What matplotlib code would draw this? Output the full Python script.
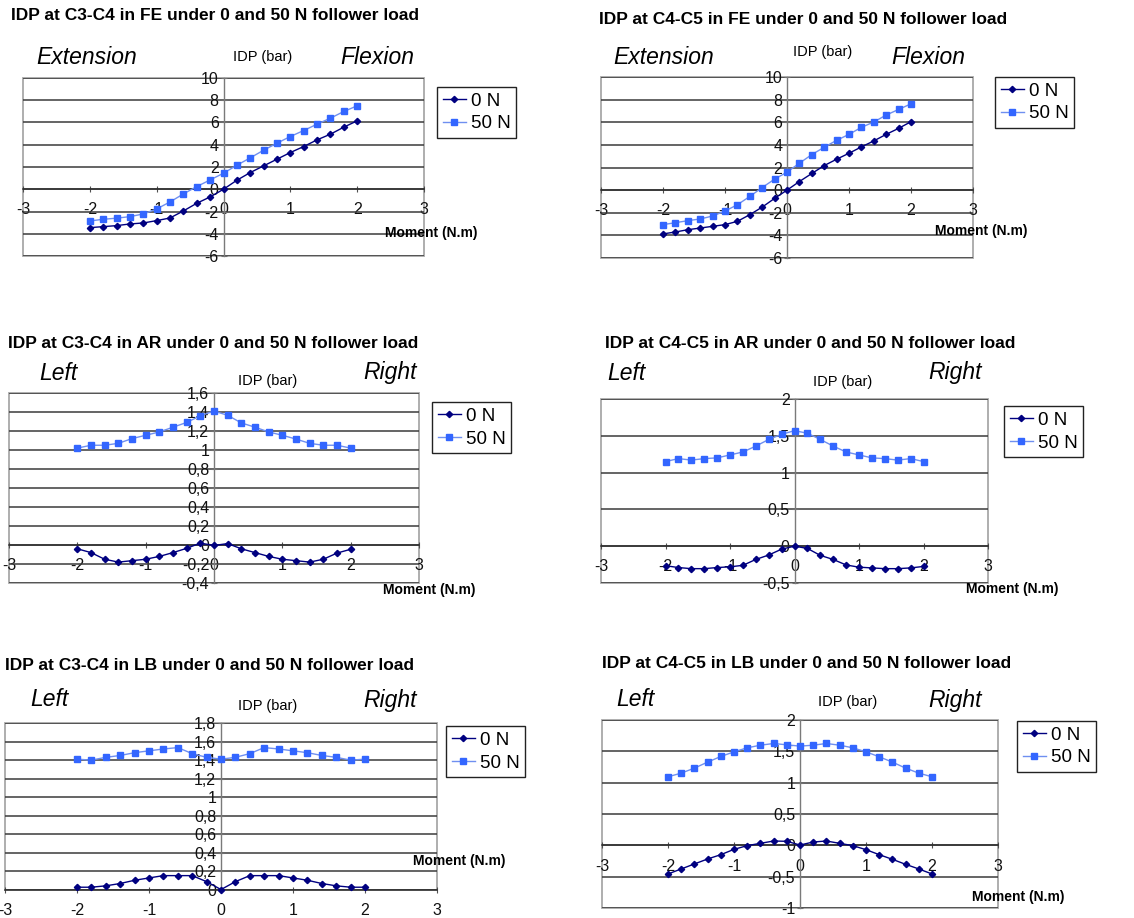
import matplotlib
matplotlib.use("Agg")
import matplotlib.pyplot as plt
from matplotlib.lines import Line2D
from matplotlib.patches import Rectangle

plt.rcParams['font.family'] = ['Liberation Sans', 'DejaVu Sans']

# ---------------- data ----------------
moment = [-2.0, -1.8, -1.6, -1.4, -1.2, -1.0, -0.8, -0.6, -0.4, -0.2, 0.0,
          0.2, 0.4, 0.6, 0.8, 1.0, 1.2, 1.4, 1.6, 1.8, 2.0]
x_ticks = [-3, -2, -1, 0, 1, 2, 3]
x_tick_labels = ['-3', '-2', '-1', '0', '1', '2', '3']
series_labels = ['0 N', '50 N']

fe_c34_0n = [-3.45, -3.36, -3.27, -3.12, -3.03, -2.82, -2.58, -1.95, -1.26, -0.69, 0.0,
             0.81, 1.50, 2.10, 2.70, 3.30, 3.84, 4.44, 4.95, 5.58, 6.15]
fe_c34_50n = [-2.85, -2.70, -2.60, -2.46, -2.22, -1.77, -1.14, -0.42, 0.24, 0.84, 1.44,
              2.16, 2.82, 3.51, 4.14, 4.74, 5.28, 5.85, 6.39, 6.99, 7.50]
fe_c45_0n = [-3.87, -3.70, -3.50, -3.35, -3.20, -3.05, -2.76, -2.17, -1.50, -0.73, 0.0,
             0.76, 1.47, 2.17, 2.73, 3.26, 3.82, 4.35, 4.93, 5.46, 6.05]
fe_c45_50n = [-3.05, -2.88, -2.70, -2.55, -2.29, -1.85, -1.29, -0.56, 0.23, 0.97, 1.59,
              2.38, 3.14, 3.79, 4.40, 4.93, 5.55, 6.02, 6.64, 7.13, 7.63]

ar_c34_0n = [-0.04, -0.08, -0.15, -0.18, -0.165, -0.15, -0.12, -0.08, -0.035, 0.02, -0.005,
             0.015, -0.04, -0.08, -0.12, -0.15, -0.165, -0.18, -0.15, -0.085, -0.045]
ar_c34_50n = [1.02, 1.05, 1.05, 1.07, 1.12, 1.155, 1.19, 1.24, 1.29, 1.36, 1.41,
              1.365, 1.285, 1.24, 1.19, 1.155, 1.115, 1.07, 1.05, 1.05, 1.02]
ar_c45_0n = [-0.265, -0.29, -0.305, -0.305, -0.29, -0.28, -0.26, -0.18, -0.12, -0.04, 0.0,
             -0.03, -0.125, -0.18, -0.255, -0.285, -0.295, -0.305, -0.305, -0.295, -0.275]
ar_c45_50n = [1.15, 1.19, 1.17, 1.19, 1.20, 1.24, 1.28, 1.36, 1.45, 1.52, 1.57,
              1.535, 1.45, 1.36, 1.28, 1.24, 1.20, 1.19, 1.17, 1.19, 1.15]

lb_c34_0n = [0.03, 0.03, 0.045, 0.07, 0.105, 0.13, 0.155, 0.155, 0.155, 0.09, 0.005,
             0.09, 0.155, 0.155, 0.155, 0.13, 0.105, 0.07, 0.045, 0.03, 0.03]
lb_c34_50n = [1.41, 1.40, 1.43, 1.45, 1.48, 1.50, 1.52, 1.535, 1.47, 1.43, 1.41,
              1.43, 1.47, 1.535, 1.52, 1.50, 1.48, 1.45, 1.43, 1.40, 1.41]
lb_c45_0n = [-0.457, -0.377, -0.297, -0.218, -0.149, -0.064, -0.005, 0.032, 0.069, 0.064, 0.005,
             0.053, 0.069, 0.032, -0.005, -0.069, -0.149, -0.223, -0.303, -0.377, -0.457]
lb_c45_50n = [1.094, 1.152, 1.232, 1.328, 1.418, 1.492, 1.556, 1.598, 1.625, 1.604, 1.583,
              1.598, 1.625, 1.598, 1.556, 1.492, 1.413, 1.328, 1.232, 1.152, 1.094]

yticks_fe = [-6, -4, -2, 0, 2, 4, 6, 8, 10]
ylabels_fe = ['-6', '-4', '-2', '0', '2', '4', '6', '8', '10']
yticks_ar34 = [-0.4, -0.2, 0.0, 0.2, 0.4, 0.6, 0.8, 1.0, 1.2, 1.4, 1.6]
ylabels_ar34 = ['-0,4', '-0,2', '0', '0,2', '0,4', '0,6', '0,8', '1', '1,2', '1,4', '1,6']
yticks_half = [-0.5, 0.0, 0.5, 1.0, 1.5, 2.0]
ylabels_half = ['-0,5', '0', '0,5', '1', '1,5', '2']
yticks_lb34 = [0.0, 0.2, 0.4, 0.6, 0.8, 1.0, 1.2, 1.4, 1.6, 1.8]
ylabels_lb34 = ['0', '0,2', '0,4', '0,6', '0,8', '1', '1,2', '1,4', '1,6', '1,8']
yticks_lb45 = [-1.0, -0.5, 0.0, 0.5, 1.0, 1.5, 2.0]
ylabels_lb45 = ['-1', '-0,5', '0', '0,5', '1', '1,5', '2']

# ---------------- layout ----------------
W, H = 1134, 918
fig = plt.figure(figsize=(W / 100, H / 100), dpi=100)
fig.patch.set_facecolor('white')

C0 = '#000080'
C50_LINE = '#6f8ff0'
C50_MARK = '#3366ff'


def fx(px):
    return px / W


def fy(py):
    return 1 - py / H


panels = [
    dict(box=(23, 78, 424, 256), y0=fe_c34_0n, y50=fe_c34_50n, yt=yticks_fe, yl=ylabels_fe,
         title='IDP at C3-C4 in FE under 0 and 50 N follower load', tpos=(11, 16),
         left='Extension', lpos=(36, 57), right='Flexion', rpos=(340, 57),
         idp=(233, 57), leg=(437, 87), mom=(385, 233)),
    dict(box=(601, 77, 973, 258), y0=fe_c45_0n, y50=fe_c45_50n, yt=yticks_fe, yl=ylabels_fe,
         title='IDP at C4-C5 in FE under 0 and 50 N follower load', tpos=(599, 20),
         left='Extension', lpos=(613, 57), right='Flexion', rpos=(891, 57),
         idp=(793, 52), leg=(995, 77), mom=(935, 231)),
    dict(box=(9, 393, 419, 583), y0=ar_c34_0n, y50=ar_c34_50n, yt=yticks_ar34, yl=ylabels_ar34,
         title='IDP at C3-C4 in AR under 0 and 50 N follower load', tpos=(8, 343),
         left='Left', lpos=(39, 373), right='Right', rpos=(363, 373),
         idp=(238, 381), leg=(432, 402), mom=(383, 590)),
    dict(box=(601, 399, 988, 583), y0=ar_c45_0n, y50=ar_c45_50n, yt=yticks_half, yl=ylabels_half,
         title='IDP at C4-C5 in AR under 0 and 50 N follower load', tpos=(605, 343),
         left='Left', lpos=(607, 373), right='Right', rpos=(928, 373),
         idp=(813, 382), leg=(1004, 406), mom=(966, 589)),
    dict(box=(5, 723, 437, 890), y0=lb_c34_0n, y50=lb_c34_50n, yt=yticks_lb34, yl=ylabels_lb34,
         title='IDP at C3-C4 in LB under 0 and 50 N follower load', tpos=(5, 665),
         left='Left', lpos=(30, 700), right='Right', rpos=(363, 700),
         idp=(238, 706), leg=(446, 726), mom=(413, 861)),
    dict(box=(602, 720, 998, 908), y0=lb_c45_0n, y50=lb_c45_50n, yt=yticks_lb45, yl=ylabels_lb45,
         title='IDP at C4-C5 in LB under 0 and 50 N follower load', tpos=(602, 663),
         left='Left', lpos=(616, 700), right='Right', rpos=(928, 700),
         idp=(818, 702), leg=(1017, 721), mom=(972, 897)),
]

for p in panels:
    l, t, r, b = p['box']
    ax = fig.add_axes([fx(l), fy(b), (r - l) / W, (b - t) / H])
    ax.set_xlim(x_ticks[0], x_ticks[-1])
    ax.set_ylim(p['yt'][0], p['yt'][-1])

    ax.plot(moment, p['y0'], color=C0, lw=1.0, marker='D', ms=3.2,
            mfc=C0, mec=C0, zorder=4, clip_on=False)
    ax.plot(moment, p['y50'], color=C50_LINE, lw=1.0, marker='s', ms=4.2,
            mfc=C50_MARK, mec=C50_MARK, zorder=4, clip_on=False)

    ax.set_xticks(x_ticks)
    ax.set_xticklabels(x_tick_labels)
    ax.set_yticks(p['yt'])
    ax.set_yticklabels(p['yl'])

    ax.yaxis.grid(True, color='#3a3a3a', lw=1.1, zorder=1)
    ax.set_axisbelow(True)

    for s in ('top', 'right'):
        ax.spines[s].set_visible(False)
    ax.spines['left'].set_position(('data', 0))
    ax.spines['bottom'].set_position(('data', 0))
    ax.spines['left'].set_color('#7a7a7a')
    ax.spines['bottom'].set_color('#303030')
    ax.spines['left'].set_linewidth(1.0)
    ax.spines['bottom'].set_linewidth(1.1)

    ax.add_patch(Rectangle((0, 0), 1, 1, transform=ax.transAxes, fill=False,
                           edgecolor='#a8a8a8', lw=1.3, zorder=0.5, clip_on=False))

    ax.tick_params(axis='x', direction='inout', length=5, width=0.8, color='#505050',
                   pad=7, labelsize=11.5, labelcolor='#111111')
    ax.tick_params(axis='y', direction='inout', length=5, width=0.8, color='#707070',
                   pad=1, labelsize=11.5, labelcolor='#111111')

    # texts
    fig.text(fx(p['tpos'][0]), fy(p['tpos'][1]), p['title'], fontsize=12.5,
             fontweight='bold', ha='left', va='center')
    fig.text(fx(p['lpos'][0]), fy(p['lpos'][1]), p['left'], fontsize=16.5,
             style='italic', ha='left', va='center')
    fig.text(fx(p['rpos'][0]), fy(p['rpos'][1]), p['right'], fontsize=16.5,
             style='italic', ha='left', va='center')
    fig.text(fx(p['idp'][0]), fy(p['idp'][1]), 'IDP (bar)', fontsize=10.5,
             ha='left', va='center')
    fig.text(fx(p['mom'][0]), fy(p['mom'][1]), 'Moment (N.m)', fontsize=10,
             fontweight='bold', ha='left', va='center')

    handles = [
        Line2D([], [], color=C0, lw=1.0, marker='D', ms=3.2, mfc=C0, mec=C0),
        Line2D([], [], color=C50_LINE, lw=1.0, marker='s', ms=4.2, mfc=C50_MARK, mec=C50_MARK),
    ]
    fig.legend(handles, series_labels, loc='upper left',
               bbox_to_anchor=(fx(p['leg'][0]), fy(p['leg'][1])),
               borderaxespad=0, fancybox=False, frameon=True, edgecolor='#222222',
               framealpha=1, fontsize=13.5, handlelength=1.25, handletextpad=0.25,
               borderpad=0.3, labelspacing=0.3).get_frame().set_linewidth(1.0)

fig.savefig('out.png', dpi=100, facecolor='white')
